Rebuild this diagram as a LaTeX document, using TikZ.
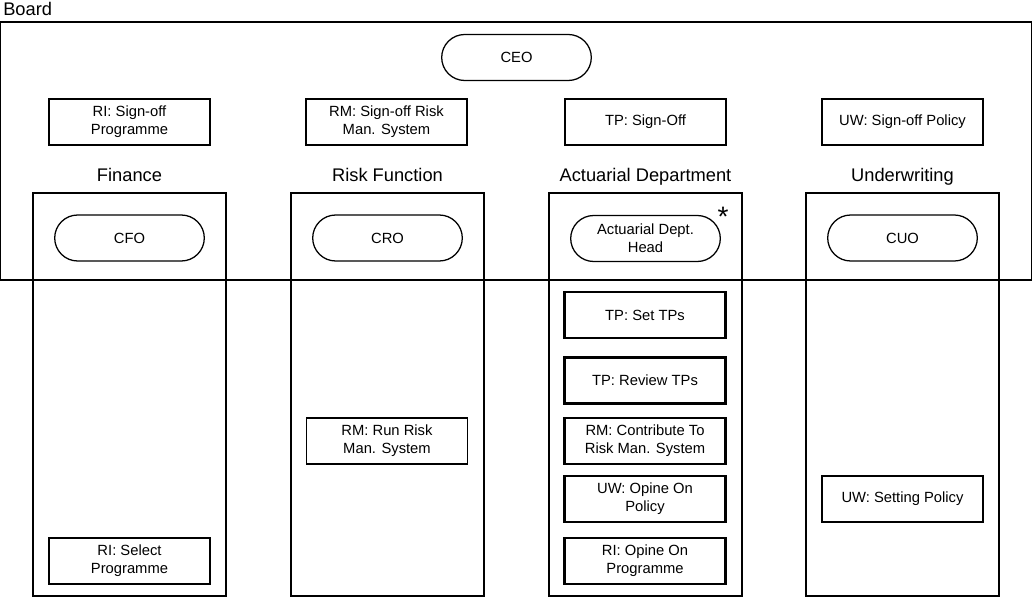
\documentclass[tikz,border=0pt]{standalone}
\usepackage{fontspec}
\setmainfont{Liberation Sans}
\usetikzlibrary{positioning,shapes.misc}

\begin{document}
\begin{tikzpicture}[x=0.025cm,y=-0.025cm,
      board/.style={draw,line width=0.9pt,minimum width=25.775cm,
        minimum height=6.45cm,inner sep=0pt},
      dept/.style={draw,line width=0.9pt,minimum width=4.825cm,
        minimum height=10.075cm,inner sep=0pt},
      head/.style={font=\fontsize{13}{15}\selectfont,inner sep=0pt},
      role/.style={draw,rounded rectangle,line width=0.9pt,
        minimum width=3.88cm,minimum height=1.15cm,align=center,
        font=\fontsize{10.5}{13}\selectfont,inner sep=2pt},
      task/.style={draw,line width=0.9pt,minimum width=4.025cm,
        minimum height=1.15cm,align=center,
        font=\fontsize{10.5}{13}\selectfont,inner sep=2pt},
      ownt/.style={task,line width=2pt}
    ]
      \useasboundingbox (0,0) rectangle (1033,597);
      % board level
      \node[board] (board) at (515.5,151) {};
      \node[head,anchor=north west] (boardlbl) at (3,2) {Board};
      \node[role] (ceo) at (516.5,57.5) {CEO};
      \node[task] (risign) at (129.5,122) {RI: Sign-off\\Programme};
      \node[task] (rmsign) at (386.5,122) {RM: Sign-off Risk\\Man. System};
      \node[task] (tpsign) at (645.5,122) {TP: Sign-Off};
      \node[task] (uwsign) at (902.5,122) {UW: Sign-off Policy};
      % departments
      \node[dept] (fin) at (129.5,394.5) {};
      \node[dept] (risk) at (387.5,394.5) {};
      \node[dept] (act) at (645.5,394.5) {};
      \node[dept] (uw) at (902.5,394.5) {};
      \node[head,anchor=base] (finlbl) at (129.5,182) {Finance};
      \node[head,anchor=base] (risklbl) at (387.5,182) {Risk Function};
      \node[head,anchor=base] (actlbl) at (645.5,182) {Actuarial Department};
      \node[head,anchor=base] (uwlbl) at (902.5,182) {Underwriting};
      \node[role] (cfo) at (129.5,238) {CFO};
      \node[role] (cro) at (387.5,238) {CRO};
      \node[role] (actd) at (645.5,238.5) {Actuarial Dept.\\Head};
      \node[role] (cuo) at (902.5,238) {CUO};
      \node[font=\fontsize{20}{20}\selectfont,inner sep=0pt]
        (star) at (723,217) {*};
      % tasks
      \node[task] (risel) at (129.5,561) {RI: Select\\Programme};
      \node[task] (rmrun) at (387,441) {RM: Run Risk\\Man. System};
      \node[ownt] (tpset) at (645,315) {TP: Set TPs};
      \node[ownt] (tprev) at (645,380.5) {TP: Review TPs};
      \node[ownt] (rmcon) at (645,441) {RM: Contribute To\\Risk Man. System};
      \node[ownt] (uwop) at (645,499) {UW: Opine On\\Policy};
      \node[ownt] (riop) at (645,561) {RI: Opine On\\Programme};
      \node[task] (uwset) at (902.5,499) {UW: Setting Policy};
    \end{tikzpicture}
\end{document}
